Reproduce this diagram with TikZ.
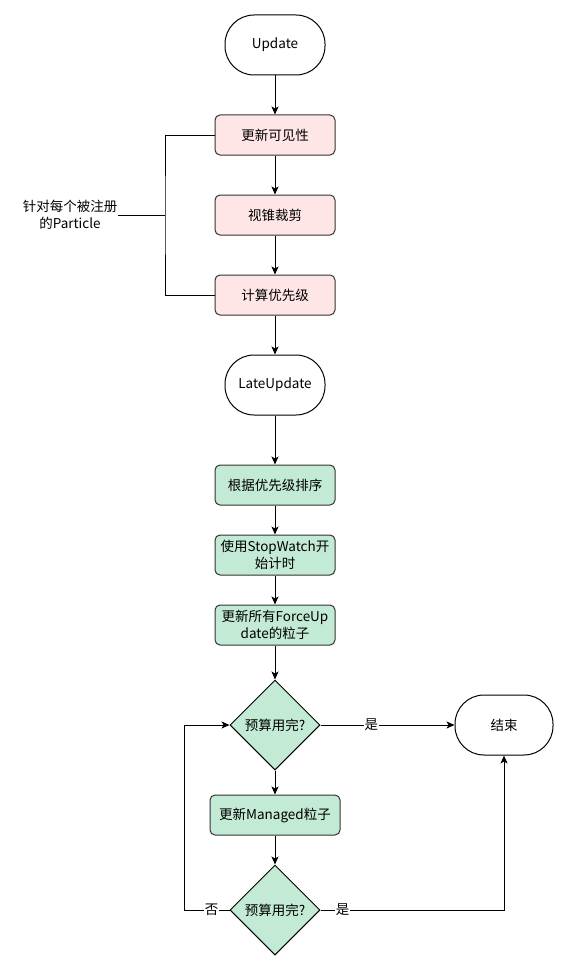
\documentclass[tikz,border=0pt]{standalone}
\usepackage{fontspec}
\setmainfont{Noto Sans CJK SC}
\usetikzlibrary{shapes.geometric,arrows.meta,positioning}
\definecolor{pinkfill}{HTML}{FFE6E6}
\definecolor{greenfill}{HTML}{C3EAD4}
\definecolor{edgegray}{HTML}{333333}

\begin{document}
\begin{tikzpicture}[x=1pt,y=1pt,line width=1pt,
		every node/.style={font=\fontsize{13.5}{17}\selectfont},
		term/.style={draw, fill=white, rounded corners=29pt, minimum width=100pt, minimum height=60pt},
		redbox/.style={draw=edgegray, fill=pinkfill, rounded corners=5pt, minimum width=120pt, minimum height=40pt, align=center, inner sep=1pt},
		greenbox/.style={redbox, fill=greenfill},
		decide/.style={draw, diamond, fill=greenfill, minimum width=90pt, minimum height=90pt, inner sep=0pt},
		flow/.style={-{Stealth[length=8pt,width=7pt,inset=2pt]}},
		tag/.style={fill=white, inner sep=1pt}]
		
		%Page size
		\useasboundingbox (0,0) rectangle (569,-971);
		
		%Update part
		\node[term] (update) at (275,-45) {Update};
		\node[redbox] (vis) at (275,-135) {更新可见性};
		\node[redbox] (cull) at (275,-215) {视锥裁剪};
		\node[redbox] (prio) at (275,-295) {计算优先级};
		
		%LateUpdate part
		\node[term] (late) at (275,-385) {LateUpdate};
		\node[greenbox] (sort) at (275,-485) {根据优先级排序};
		\node[greenbox] (watch) at (275,-555) {使用StopWatch开\\始计时};
		\node[greenbox] (force) at (275,-625) {更新所有ForceUp\\date的粒子};
		\node[decide] (budgetA) at (275,-725) {\makebox[0pt]{预算用完?}};
		\node[greenbox, minimum width=130pt] (managed) at (275,-815) {更新Managed粒子};
		\node[decide] (budgetB) at (275,-910) {\makebox[0pt]{预算用完?}};
		\node[term, minimum width=98pt] (finish) at (504,-725) {结束};
		
		%Note on the left
		\node[align=center, inner sep=0pt] (note) at (70,-215) {针对每个被注册\\的Particle};
		\coordinate (brace) at (165,-215);
		
		%Drawing the flow
		\draw[flow] (update) -- (vis);
		\draw[flow] (vis) -- (cull);
		\draw[flow] (cull) -- (prio);
		\draw[flow] (prio) -- (late);
		\draw[flow] (late) -- (sort);
		\draw[flow] (sort) -- (watch);
		\draw[flow] (watch) -- (force);
		\draw[flow] (force) -- (budgetA);
		\draw[flow] (budgetA) -- (managed);
		\draw[flow] (managed) -- (budgetB);
		\draw[flow] (budgetA) -- node[tag, pos=0.38] {是} (finish);
		\draw[flow] (budgetB.east) -- node[tag, pos=0.12] {是} (budgetB.east -| finish.south) -- (finish.south);
		\draw[flow] (budgetB.west) -- node[tag, pos=0.4] {否} ++(-45,0) |- (budgetA.west);
		
		%Drawing the bracket
		\draw (vis.west) -| (brace) |- (prio.west);
		\draw (note.east) -- (brace);
	\end{tikzpicture}
\end{document}
